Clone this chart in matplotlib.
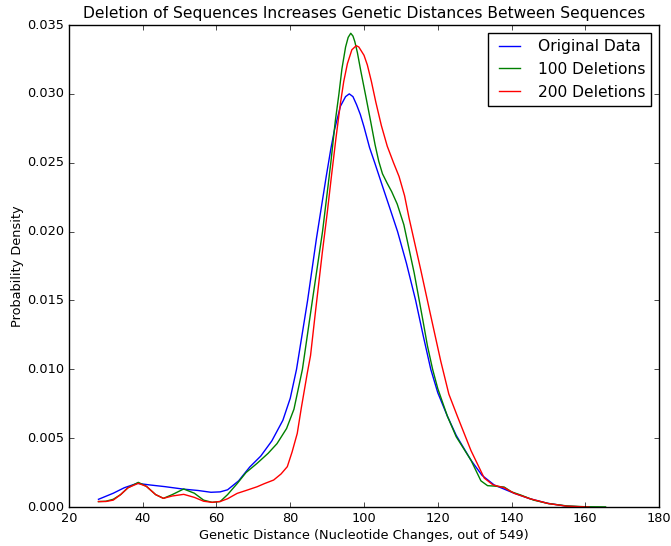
import matplotlib
matplotlib.use("Agg")
from matplotlib import pyplot as plt

# genetic distance densities
orig_x = [28, 32, 35, 38.5, 42, 46, 51, 55, 58.5, 61, 63, 66, 69, 72, 75, 78, 80, 81.7, 83.2, 84.7,
          87.1, 89.75, 91, 92, 93.6, 95, 96, 97, 98, 99, 100, 101.5, 102.9, 105, 107, 109.1, 111.5,
          114, 116, 118.1, 120, 122.6, 125, 129, 132, 135.3, 138, 140.7, 145, 149.8, 155, 160]
orig_y = [0.00056, 0.0010, 0.0014, 0.00172, 0.0016, 0.00148, 0.0013, 0.0012, 0.00107, 0.0011,
          0.00125, 0.0019, 0.0029, 0.0037, 0.0048, 0.0063, 0.0079, 0.0100, 0.0125, 0.0150,
          0.0195, 0.0240, 0.0260, 0.0274, 0.0291, 0.0298, 0.0300, 0.0298, 0.0292, 0.0285, 0.0276,
          0.0261, 0.0250, 0.0233, 0.0217, 0.0200, 0.0177, 0.0150, 0.0125, 0.0100, 0.0083, 0.0066,
          0.0052, 0.0034, 0.0023, 0.0016, 0.0013, 0.0010, 0.0006, 0.00027, 0.00006, 0.0]

del100_x = [28, 30, 32, 34, 36, 38.8, 41, 43.5, 45.6, 48, 51.1, 54, 56.5, 58.8, 61, 63, 65.6, 68,
            71, 74, 76.4, 79, 81, 83.3, 86, 88.75, 91, 92.2, 93.2, 94, 95, 95.7, 96.4, 97, 97.5,
            98.2, 99.1, 100.5, 101.8, 103, 104, 105, 106.3, 107.5, 109, 110.8, 112, 113.6, 116,
            117.2, 118.6, 120, 122.6, 125, 129, 131.7, 133.5, 135.3, 138, 140, 142.5, 146, 150,
            155, 160, 165.5]
del100_y = [0.00039, 0.00042, 0.00056, 0.0009, 0.0014, 0.00179, 0.0015, 0.0009, 0.00063, 0.0009,
            0.00131, 0.0010, 0.0005, 0.00034, 0.0004, 0.0009, 0.0017, 0.0025, 0.00317, 0.0039,
            0.0046, 0.0057, 0.0071, 0.0100, 0.0150, 0.0200, 0.0250, 0.0280, 0.0300, 0.0318, 0.0334,
            0.0341, 0.0344, 0.0342, 0.0338, 0.0330, 0.0317, 0.0298, 0.0280, 0.0263, 0.0251, 0.0242,
            0.0235, 0.0229, 0.0220, 0.0205, 0.0190, 0.0170, 0.0135, 0.0117, 0.0100, 0.0086, 0.0066,
            0.0051, 0.0034, 0.0019, 0.00155, 0.00152, 0.00145, 0.0011, 0.00087, 0.0005, 0.00025,
            0.00008, 0.00002, 0.00001]

del200_x = [28, 30, 32, 34, 36, 38.8, 41, 43.5, 45.6, 48, 51.1, 54, 56.5, 58.8, 61, 63, 65.6, 68,
            71, 73, 75.5, 77.5, 79.2, 80.5, 81.9, 83, 84.6, 85.5, 86.8, 88.7, 90, 91.2, 92.4, 93.6,
            94.5, 95.5, 96.7, 97.9, 98.6, 100, 100.9, 102, 103.2, 104.7, 106.3, 108, 109.5, 111,
            112.2, 115.4, 118, 120.8, 123, 125.3, 129, 132.6, 135, 138, 140.7, 145, 150, 155, 161]
del200_y = [0.0004, 0.0004, 0.0005, 0.0009, 0.0014, 0.00172, 0.0015, 0.0009, 0.00063, 0.0008,
            0.00092, 0.0007, 0.00042, 0.00034, 0.0004, 0.0006, 0.00099, 0.0012, 0.00147, 0.0017,
            0.00196, 0.0024, 0.00293, 0.0040, 0.00535, 0.0072, 0.0097, 0.0110, 0.0141, 0.0185,
            0.0213, 0.0241, 0.0268, 0.0293, 0.0309, 0.0322, 0.0332, 0.0335, 0.0334, 0.0328, 0.0321,
            0.0309, 0.0294, 0.0277, 0.0262, 0.0250, 0.0240, 0.0226, 0.0210, 0.0172, 0.0140, 0.0106,
            0.0082, 0.0066, 0.0041, 0.0021, 0.0016, 0.0014, 0.0010, 0.0006, 0.00025, 0.00006, 0.0]

labels = ["Original Data", "100 Deletions", "200 Deletions"]

plt.style.use("classic")
fig = plt.figure(figsize=(6.71, 5.46), dpi=100, facecolor="white")
ax = fig.add_axes([0.1028, 0.0714, 0.8794, 0.8828])

ax.plot(orig_x, orig_y, color="b", lw=1.0, label=labels[0])
ax.plot(del100_x, del100_y, color="g", lw=1.0, label=labels[1])
ax.plot(del200_x, del200_y, color="r", lw=1.0, label=labels[2])

ax.set_xlim(20, 180)
ax.set_ylim(0, 0.035)
ax.set_xticks(range(20, 181, 20))
ax.set_yticks([i * 0.005 for i in range(8)])
ax.set_yticklabels(["%.3f" % (i * 0.005) for i in range(8)])
ax.tick_params(labelsize=9.3, pad=3.5, length=3.5)

ax.set_title("Deletion of Sequences Increases Genetic Distances Between Sequences", fontsize=11.2, pad=5)
ax.set_xlabel("Genetic Distance (Nucleotide Changes, out of 549)", fontsize=9.3, labelpad=3)
ax.set_ylabel("Probability Density", fontsize=9.3, labelpad=2)
ax.legend(loc="upper right", fontsize=11.2)

fig.savefig("out.png", dpi=100, facecolor="white")
